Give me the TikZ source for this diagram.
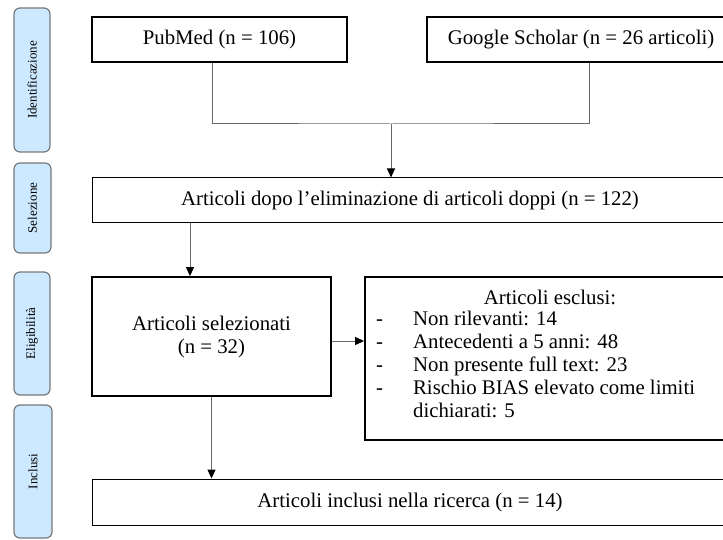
\documentclass[tikz,border=0pt]{standalone}
\usepackage{fontspec}
\setmainfont{Liberation Serif}
\usetikzlibrary{arrows.meta, positioning}
\definecolor{phaseblue}{RGB}{205,233,255}
\definecolor{phaseedge}{RGB}{120,120,120}
\definecolor{linkgray}{RGB}{105,105,105}
\newcommand{\bigtxt}{\fontsize{20.8}{23}\selectfont}
\newcommand{\phasetxt}{\fontsize{13}{15}\selectfont}

\begin{document}
\begin{tikzpicture}[x=1pt, y=-1pt, >={Triangle[length=9pt, width=8pt, color=black]},
  box/.style={draw=black, line width=1pt, fill=white, inner sep=0pt, font=\bigtxt, align=center},
  thickbox/.style={box, line width=1.8pt},
  phase/.style={draw=phaseedge, fill=phaseblue, line width=1.2pt, rounded corners=6pt,
    rotate=90, inner sep=0pt, font=\phasetxt},
  link/.style={draw=linkgray, line width=1pt}]

\useasboundingbox (0,0) rectangle (723,540);
\clip (0,0) rectangle (723,540);

% Phase labels on the left
\node[phase, minimum width=144pt, minimum height=36pt] (idf) at (32,80) {Identificazione};
\node[phase, minimum width=90pt, minimum height=37pt] (sel) at (32.5,208) {Selezione};
\node[phase, minimum width=123pt, minimum height=36pt] (elig) at (32,333.5) {Eligibilità};
\node[phase, minimum width=133pt, minimum height=38pt] (inc) at (33,471.5) {Inclusi};

% Sources
\node[thickbox, minimum width=255pt, minimum height=45pt] (pubmed) at (219.5,39.5) {PubMed (n = 106)};
\node[box, line width=1.3pt, minimum width=308pt, minimum height=45pt] (scholar) at (581,39.5) {Google Scholar (n = 26 articoli)};

% Steps of the selection
\node[box, minimum width=636pt, minimum height=45pt] (dopo) at (410,200.5) {Articoli dopo l’eliminazione di articoli doppi (n = 122)};
\node[thickbox, minimum width=239pt, minimum height=119pt] (selez) at (211.5,336.5) {Articoli selezionati\\(n = 32)};
\node[thickbox, minimum width=370pt, minimum height=163pt] (escl) at (550,358.5) {};
\node[box, minimum width=636pt, minimum height=46pt] (incl) at (410,502) {Articoli inclusi nella ricerca (n = 14)};

% Text of the excluded articles
\node[font=\bigtxt, inner sep=0pt] (escltitle) at (550,297) {Articoli esclusi:};
\node[font=\bigtxt, inner sep=0pt, anchor=north west] (escllist) at (376,309) {%
  \begin{tabular}{@{}l@{\hspace{30pt}}l@{}}
  - & Non rilevanti: 14\\
  - & Antecedenti a 5 anni: 48\\
  - & Non presente full text: 23\\
  - & Rischio BIAS elevato come limiti\\
    & dichiarati: 5
  \end{tabular}};

% Connectors
\coordinate (junct) at (391,124);
\draw[link] ([xshift=-7.5pt]pubmed.south) |- (junct) -| ([xshift=8pt]scholar.south);
\draw[link, ->] (junct) -- (junct |- dopo.north);
\draw[link, ->] ([xshift=-21.5pt]selez.north |- dopo.south) -- ([xshift=-21.5pt]selez.north);
\draw[link, ->] ([yshift=-4.5pt]selez.east) -- ([yshift=-4.5pt]selez.east -| escl.west);
\draw[link, ->] (selez.south) -- (selez.south |- incl.north);

\end{tikzpicture}
\end{document}
